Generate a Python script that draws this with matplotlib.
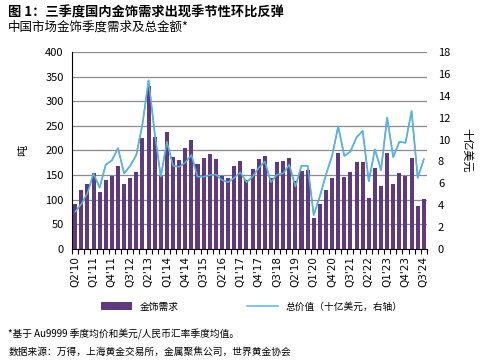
import numpy as np
import matplotlib
matplotlib.use("Agg")
from matplotlib import pyplot as plt

plt.rcParams['font.family'] = ['Noto Sans CJK SC', 'DejaVu Sans']

# quarters Q2'10 .. Q3'24
quarters = []
for yr in range(2010, 2025):
    for q in range(1, 5):
        if (yr == 2010 and q < 2) or (yr == 2024 and q > 3):
            continue
        quarters.append("Q%d'%02d" % (q, yr % 100))

# jewellery demand, tonnes
demand = [92, 119, 131, 154, 115, 141, 149, 169, 132, 144, 156, 226, 330, 228,
          149, 237, 186, 181, 206, 221, 173, 185, 192, 183, 149, 145, 169, 179,
          141, 163, 183, 188, 145, 177, 179, 184, 139, 158, 161, 62, 91, 119,
          145, 194, 147, 157, 177, 177, 104, 164, 128, 195, 132, 154, 149, 185,
          87, 102]

# total value, US$bn (right axis)
value = [3.4, 4.1, 5.1, 6.9, 5.6, 7.7, 8.1, 9.2, 6.9, 7.6, 8.6, 11.4, 15.4, 10.6,
         6.6, 9.8, 7.6, 7.5, 7.9, 8.6, 6.6, 6.6, 6.75, 6.8, 6.3, 6.1, 6.5, 7.0,
         6.1, 6.6, 7.4, 8.0, 6.1, 6.8, 6.9, 7.7, 5.7, 7.6, 7.6, 3.1, 4.8, 6.8,
         8.5, 11.2, 8.5, 8.9, 10.2, 10.8, 6.2, 9.1, 7.2, 12.0, 8.4, 9.8, 9.7, 12.6,
         6.5, 8.2]

x = np.arange(len(quarters))

fig = plt.figure(figsize=(4.84, 3.63), dpi=100)
ax = fig.add_axes([0.149, 0.314, 0.733, 0.543])
ax2 = ax.twinx()

ax.set_zorder(1)
ax.patch.set_visible(False)
ax2.set_zorder(0)

ax.bar(x, demand, width=0.66, color='#5E3A80', zorder=2, label='金饰需求')
ln, = ax2.plot(x, value, color='#5AB2E0', lw=1.1, label='总价值（十亿美元，右轴）')
# same line again on the front axes so it sits above the bars
ax.plot(x, np.array(value) * 400 / 18, color='#5AB2E0', lw=1.1, zorder=3)

ax.set_xlim(-0.5, len(x) - 0.5)
ax.set_ylim(0, 400)
ax2.set_ylim(0, 18)
ax.set_yticks(range(0, 401, 50))
ax2.set_yticks(range(0, 19, 2))
ax.yaxis.grid(True, color='#8c8c8c', lw=0.9, zorder=0)
ax.set_axisbelow(True)

ax.set_xticks(x[::3])
ax.set_xticklabels(quarters[::3], rotation=90, fontsize=7.5, family='DejaVu Sans')
ax.set_xticks(np.arange(-0.5, len(x), 1), minor=True)
ax.tick_params(axis='x', which='major', length=0, pad=5)
ax.tick_params(axis='x', which='minor', length=3.5, width=0.8)
ax.tick_params(axis='y', length=0, labelsize=8, pad=6)
ax2.tick_params(axis='y', length=0, labelsize=8, pad=8)

for s in ['top', 'right']:
    ax.spines[s].set_visible(False)
for s in ax2.spines.values():
    s.set_visible(False)
ax.spines['left'].set_color('black')
ax.spines['bottom'].set_color('black')

ax.set_ylabel('吨', fontsize=8, labelpad=12)
ax2.set_ylabel('十亿美元', fontsize=8, rotation=270, labelpad=16)

bars_h, bars_l = ax.get_legend_handles_labels()
fig.legend([bars_h[0], ln], [bars_l[0], '总价值（十亿美元，右轴）'],
           loc='center', bbox_to_anchor=(0.52, 0.155), ncol=2, frameon=False,
           fontsize=7, columnspacing=7, handlelength=3.2, handleheight=0.9)

fig.text(0.017, 0.965, '图 1：三季度国内金饰需求出现季节性环比反弹',
         fontsize=9.5, fontweight='bold', va='center')
fig.text(0.017, 0.925, '中国市场金饰季度需求及总金额*', fontsize=9, va='center')
fig.text(0.017, 0.078, '*基于 Au9999 季度均价和美元/人民币汇率季度均值。',
         fontsize=7, va='center')
fig.text(0.017, 0.030, '数据来源：万得，上海黄金交易所，金属聚焦公司，世界黄金协会',
         fontsize=7, va='center')

fig.savefig('out.png', dpi=100)
